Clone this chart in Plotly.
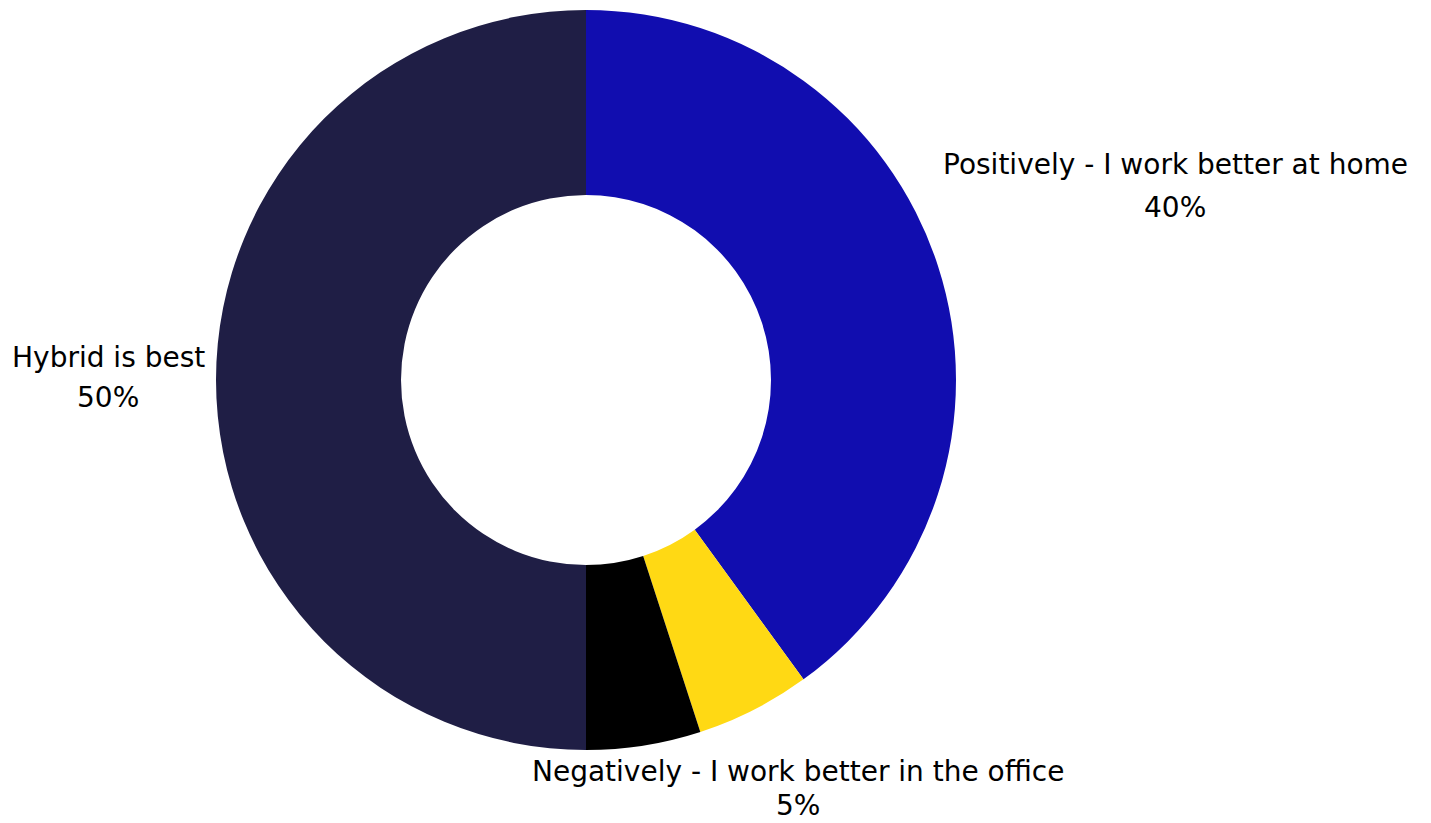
import plotly.graph_objects as go

labels = ["Positively - I work better at home", "No difference",
          "Negatively - I work better in the office", "Hybrid is best"]
values = [40, 5, 5, 50]
colors = ["#110DAF", "#FFD914", "#000000", "#1F1E45"]
show_label = [True, False, True, True]

# label placement: (x, y of name line, y of percent line, yanchor of percent line)
label_pos = {
    "Positively - I work better at home": (1175 / 1431, 1 - 165 / 823, 1 - 207 / 823, "middle"),
    "Negatively - I work better in the office": (798 / 1431, 1 - 771 / 823, 0.0, "bottom"),
    "Hybrid is best": (108 / 1431, 1 - 357 / 823, 1 - 397 / 823, "middle"),
}
font = dict(family="DejaVu Sans", size=28, color="#000000")

fig = go.Figure(go.Pie(
    labels=labels, values=values, hole=0.5, sort=False, direction="clockwise",
    rotation=0, marker=dict(colors=colors, line=dict(width=0)),
    textinfo="none", hoverinfo="label+percent", showlegend=False,
    domain=dict(x=[216 / 1431, 956 / 1431], y=[73 / 823, 813 / 823]),
))

total = sum(values)
for lab, val, show in zip(labels, values, show_label):
    if not show:
        continue
    x, y1, y2, anc2 = label_pos[lab]
    fig.add_annotation(text=lab, x=x, y=y1, xref="paper", yref="paper",
                       xanchor="center", yanchor="middle", showarrow=False, font=font)
    fig.add_annotation(text=f"{round(100 * val / total)}%", x=x, y=y2,
                       xref="paper", yref="paper", xanchor="center", yanchor=anc2,
                       showarrow=False, font=font, borderpad=0)

fig.update_layout(width=1431, height=823, margin=dict(l=0, r=0, t=0, b=0),
                  paper_bgcolor="white", plot_bgcolor="white")
fig.write_html("out.html")
